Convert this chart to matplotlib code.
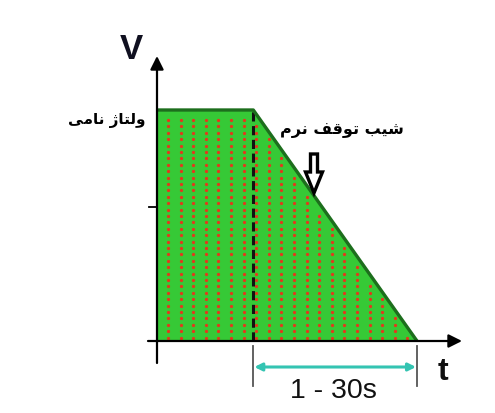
import numpy as np
import matplotlib
matplotlib.use("Agg")
import matplotlib.pyplot as plt
from matplotlib.patches import FancyArrow

# ---------------- data ----------------
t_points = [0.0, 1.0, 2.7]          # plateau start, soft-stop start, stop end
v_points = [1.0, 1.0, 0.0]          # normalised voltage
v_tick = 0.58
axis_label_v = "V"
axis_label_t = "t"
label_nominal = "ولتاژ نامی"
label_ramp = "شیب توقف نرم"
label_time = "1 - 30s"

# ------------- simple Persian shaper (presentation forms) -------------
FORMS = {  # isolated, final, initial, medial
    'و': ('\uFEED', '\uFEEE', None, None),
    'ل': ('\uFEDD', '\uFEDE', '\uFEDF', '\uFEE0'),
    'ت': ('\uFE95', '\uFE96', '\uFE97', '\uFE98'),
    'ا': ('\uFE8D', '\uFE8E', None, None),
    'ژ': ('\uFB8A', '\uFB8B', None, None),
    'ن': ('\uFEE5', '\uFEE6', '\uFEE7', '\uFEE8'),
    'م': ('\uFEE1', '\uFEE2', '\uFEE3', '\uFEE4'),
    'ی': ('\uFBFC', '\uFBFD', '\uFBFE', '\uFBFF'),
    'ش': ('\uFEB5', '\uFEB6', '\uFEB7', '\uFEB8'),
    'ب': ('\uFE8F', '\uFE90', '\uFE91', '\uFE92'),
    'ق': ('\uFED5', '\uFED6', '\uFED7', '\uFED8'),
    'ف': ('\uFED1', '\uFED2', '\uFED3', '\uFED4'),
    'ر': ('\uFEAD', '\uFEAE', None, None),
}


def shape(text):
    out = []
    n = len(text)
    for i, ch in enumerate(text):
        if ch not in FORMS:
            out.append(ch)
            continue
        f = FORMS[ch]
        prev = text[i - 1] if i > 0 else None
        nxt = text[i + 1] if i < n - 1 else None
        pj = prev in FORMS and FORMS[prev][2] is not None
        nj = nxt in FORMS and f[2] is not None
        if pj and nj:
            g = f[3]
        elif pj:
            g = f[1]
        elif nj:
            g = f[2]
        else:
            g = f[0]
        out.append(g)
    return ''.join(reversed(out))


# ---------------- figure ----------------
W, H = 495, 414
fig = plt.figure(figsize=(W / 100, H / 100), dpi=100)
ax = fig.add_axes([0, 0, 1, 1])

x0_px, y0_px = 157, 342
sx, sy = 96.3, 231.0
ax.set_xlim(-x0_px / sx, (W - x0_px) / sx)
ax.set_ylim(-(H - y0_px) / sy, y0_px / sy)
ax.axis('off')


def px(xp, yp):
    return (xp - x0_px) / sx, (y0_px - yp) / sy


fill_green = '#36c936'
edge_green = '#1d6e1d'

# filled area
poly_t = [t_points[0]] + t_points + [t_points[-1]]
poly_v = [0.0] + v_points + [0.0]
ax.fill(poly_t, poly_v, color=fill_green, zorder=1, lw=0)

# red dots pattern
dx, dy = 12.6 / sx, 6.4 / sy
cols = np.arange(11 / sx, t_points[-1], dx)
rows = np.arange(v_points[0] - 10 / sy, 0, -dy)
TT, VV = np.meshgrid(cols, rows)
TT, VV = TT.ravel(), VV.ravel()
limit = np.interp(TT, t_points, v_points)
mask = (VV < limit - 7 / sy) & (VV > 3 / sy)
ax.scatter(TT[mask], VV[mask], s=5.5, color='#e3381c', lw=0, zorder=2)

# outline (top + slope)
ax.plot(t_points, v_points, color=edge_green, lw=2.4, zorder=4,
        solid_capstyle='butt')

# dashed line at start of soft stop
ax.plot([t_points[1], t_points[1]], [0, v_points[1]], color='#111111',
        lw=2.2, ls=(0, (3.0, 1.5)), zorder=3)

# axes
ax.annotate('', xy=px(157, 57), xytext=px(157, 364),
            arrowprops=dict(arrowstyle='-|>', lw=1.6, color='black',
                            mutation_scale=20, shrinkA=0, shrinkB=0), zorder=5)
ax.annotate('', xy=px(462, 342), xytext=px(148, 342),
            arrowprops=dict(arrowstyle='-|>', lw=1.6, color='black',
                            mutation_scale=20, shrinkA=0, shrinkB=0), zorder=5)
ax.plot([px(149, 0)[0], 0], [v_tick, v_tick], color='black', lw=1.3, zorder=5)

# axis labels
ax.text(*px(131, 50), axis_label_v, fontsize=25, fontweight='bold',
        family='Liberation Sans', color='#101020', ha='center', va='center')
ax.text(*px(443, 372), axis_label_t, fontsize=23, fontweight='bold',
        family='Liberation Sans', color='#101010', ha='center', va='center')

# bracket for 1 - 30s
for tt in (t_points[1], t_points[2]):
    ax.plot([tt, tt], [px(0, 347)[1], px(0, 387)[1]], color='#555555',
            lw=1.3, zorder=5)
ax.annotate('', xy=(t_points[2] - 1 / sx, px(0, 368)[1]),
            xytext=(t_points[1] + 1 / sx, px(0, 368)[1]),
            arrowprops=dict(arrowstyle='<|-|>', lw=2.2, color='#34c4b2',
                            mutation_scale=11, shrinkA=0, shrinkB=0))
ax.text((t_points[1] + t_points[2]) / 2 - 2 / sx, px(0, 391)[1], label_time,
        fontsize=20.5, family='Liberation Sans', color='#111111',
        ha='center', va='center')

# Persian labels
ax.text(*px(107, 121), shape(label_nominal), fontsize=11, fontweight='bold',
        family='DejaVu Sans', color='black', ha='center', va='center')
ax.text(*px(342, 131), shape(label_ramp), fontsize=11.5, fontweight='bold',
        family='DejaVu Sans', color='black', ha='center', va='center')

# hollow down arrow
ax_x, ax_top = px(314, 155)
_, ax_tip = px(314, 194)
arr = FancyArrow(ax_x, ax_top, 0, ax_tip - ax_top, width=7 / sx,
                 head_width=17 / sx, head_length=21 / sy,
                 length_includes_head=True, facecolor='white',
                 edgecolor='black', lw=2.4, zorder=6)
ax.add_patch(arr)

fig.savefig('out.png', dpi=100)
